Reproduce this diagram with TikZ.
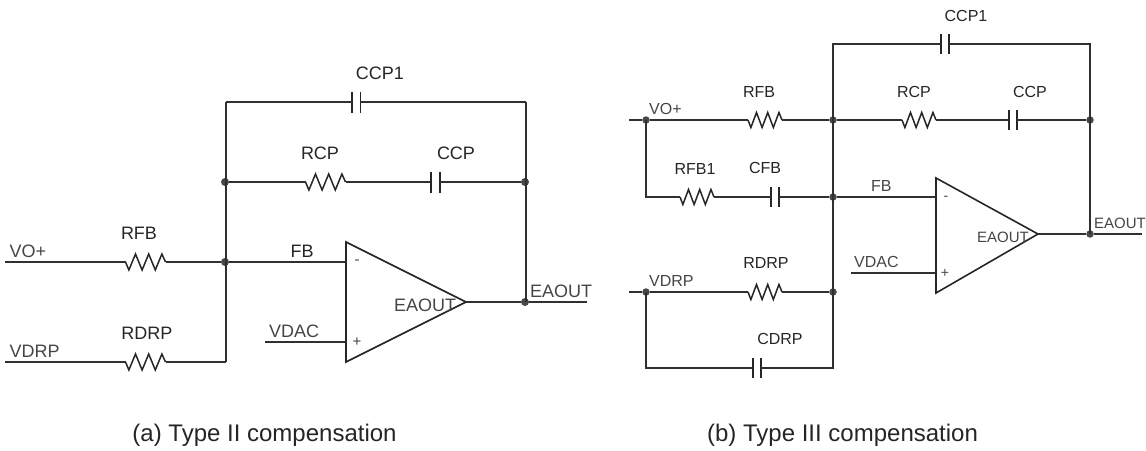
\documentclass[tikz,border=0pt]{standalone}
\usepackage{fontspec}
\setmainfont{Liberation Sans}
\definecolor{wirec}{HTML}{303030}
\definecolor{dotc}{HTML}{484848}
\definecolor{txa}{HTML}{252525}
\definecolor{txb}{HTML}{454545}
\newcommand{\resistor}[5]{% name, x left, y, width, amp
  \coordinate (#1l) at (#2,#3);
  \coordinate (#1r) at ({#2+#4},#3);
  \draw[part] (#1l)
    -- ++({0.085*#4},{#5}) -- ++({0.165*#4},{-2*#5}) -- ++({0.165*#4},{2*#5})
    -- ++({0.165*#4},{-2*#5}) -- ++({0.165*#4},{2*#5}) -- ++({0.165*#4},{-2*#5})
    -- (#1r);
}
\newcommand{\capacitor}[5]{% name, x plate1, x plate2, y, half height
  \coordinate (#1l) at (#2,#4);
  \coordinate (#1r) at (#3,#4);
  \draw[part] ([yshift=#5 pt]#1l) -- ([yshift=-#5 pt]#1l);
  \draw[part] ([yshift=#5 pt]#1r) -- ([yshift=-#5 pt]#1r);
}
\newcommand{\fsA}{\fontsize{18}{20}\selectfont}
\newcommand{\fsB}{\fontsize{16}{18}\selectfont}
\tikzset{
  wire/.style={draw=wirec,line width=1.5pt},
  heavy/.style={draw=wirec,line width=1.9pt},
  part/.style={draw=black!85,line width=1.5pt,line join=miter},
  amp/.style={draw=black!85,line width=1.6pt,line join=miter},
  jdot/.style={circle,fill=dotc,inner sep=0pt,minimum size=8pt},
  la/.style={inner sep=0pt,text=txa,font=\fsA},
  lag/.style={inner sep=0pt,text=txb,font=\fsA,anchor=west},
  lb/.style={inner sep=0pt,text=txa,font=\fsB},
  lbg/.style={inner sep=0pt,text=txb,font=\fsB,anchor=west},
  captext/.style={inner sep=0pt,text=txa,anchor=base,font=\fontsize{24}{28}\selectfont}
}
\begin{document}
\begin{tikzpicture}[x=1pt,y=-1pt]
\useasboundingbox (0,0) rectangle (1146,450);
% ---------- (a) ----------
\coordinate (aVO) at (5,262);
\coordinate (aVD) at (5,362);
\coordinate (aTL) at (226,102);
\coordinate (aTR) at (526,102);
\coordinate (aBL) at (226,362);
\coordinate (aOutEnd) at (587,302);
\coordinate (aDacS) at (265,342);
\coordinate (aMinus) at (346,262);
\coordinate (aPlus) at (346,342);
\coordinate (aApex) at (466,302);
\node[jdot] (aJ1) at (225,182) {};
\node[jdot] (aJ2) at (225,262) {};
\node[jdot] (aJ3) at (525,182) {};
\node[jdot] (aJ4) at (525,302) {};
\resistor{aRFB}{125.5}{262}{40}{8}
\resistor{aRDRP}{125.5}{362}{40}{8}
\resistor{aRCP}{305.5}{182}{40}{8}
\capacitor{aCCP}{431}{440}{182}{10.5}
\capacitor{aCCPa}{352}{360.5}{102}{10.5}
\draw[wire] (aVO) -- (aRFBl) (aRFBr) -- (aJ2);
\draw[wire] (aVD) -- (aRDRPl) (aRDRPr) -- (aBL);
\draw[heavy] (aBL) -- (aTL);
\draw[wire] (aTL) -- (aCCPal) (aCCPar) -- (aTR);
\draw[heavy] (aTR) -- (526,302);
\draw[wire] (aJ1) -- (aRCPl) (aRCPr) -- (aCCPl) (aCCPr) -- (aJ3);
\draw[wire] (aJ2) -- (aMinus);
\draw[wire] (aDacS) -- (aPlus);
\draw[wire] (aApex) -- (aJ4) -- (aOutEnd);
\draw[amp] (346,242) -- (aApex) -- (346,362) -- cycle;
\node[lag] (tA1) at (9.5,251) {VO+};
\node[la] (tA2) at (139,233) {RFB};
\node[lag] (tA3) at (9.5,351) {VDRP};
\node[la] (tA4) at (147,333) {RDRP};
\node[la] (tA5) at (380,73) {CCP1};
\node[la] (tA6) at (320,153) {RCP};
\node[la] (tA7) at (456,153) {CCP};
\node[la] (tA8) at (302,251) {FB};
\node[lag] (tA9) at (269,331) {VDAC};
\node[inner sep=0pt,text=txb,font=\fontsize{15}{17}\selectfont] (tA10) at (357,262) {-};
\node[inner sep=0pt,text=txb,font=\fontsize{15}{17}\selectfont] (tA11) at (357,342) {+};
\node[lag] (tA12) at (394,305) {EAOUT};
\node[lag] (tA13) at (530,291) {EAOUT};
\node[captext] (tA14) at (264.5,441.5) {(a) Type II compensation};
% ---------- (b) ----------
\coordinate (bVO) at (629,120);
\coordinate (bVD) at (629,292);
\coordinate (bTL) at (833,44);
\coordinate (bTR) at (1090,44);
\coordinate (bBR) at (833,368);
\coordinate (bBL) at (646,368);
\coordinate (bFBL) at (646,197);
\coordinate (bOutEnd) at (1142,234);
\coordinate (bDacS) at (851,273);
\coordinate (bMinus) at (936,197);
\coordinate (bPlus) at (936,273);
\coordinate (bApex) at (1038,234);
\node[jdot,minimum size=7.5pt] (bJ1) at (646,120) {};
\node[jdot,minimum size=7.5pt] (bJ2) at (833,120) {};
\node[jdot,minimum size=7.5pt] (bJ3) at (833,197) {};
\node[jdot,minimum size=7.5pt] (bJ4) at (646,292) {};
\node[jdot,minimum size=7.5pt] (bJ5) at (833,292) {};
\node[jdot,minimum size=7.5pt] (bJ6) at (1090,120) {};
\node[jdot,minimum size=7.5pt] (bJ7) at (1090,234) {};
\resistor{bRFB}{748}{120}{34}{7.5}
\resistor{bRFBa}{680}{197}{34}{7.5}
\resistor{bRDRP}{748}{292}{34}{7.5}
\resistor{bRCP}{902}{120}{34}{7.5}
\capacitor{bCFB}{771}{779}{197}{10}
\capacitor{bCDRP}{753}{761}{368}{10}
\capacitor{bCCP}{1009}{1017}{120}{10}
\capacitor{bCCPa}{941}{949}{44}{10}
\draw[wire] (bVO) -- (bJ1) -- (bRFBl) (bRFBr) -- (bJ2) -- (bRCPl) (bRCPr) -- (bCCPl) (bCCPr) -- (bJ6);
\draw[wire] (bJ1.center) -- (bFBL) -- (bRFBal) (bRFBar) -- (bCFBl) (bCFBr) -- (bJ3) -- (bMinus);
\draw[wire] (bVD) -- (bJ4) -- (bRDRPl) (bRDRPr) -- (bJ5);
\draw[wire] (bJ4.center) -- (bBL) -- (bCDRPl) (bCDRPr) -- (bBR) -- (bTL) -- (bCCPal) (bCCPar) -- (bTR) -- (bJ7.center);
\draw[wire] (bDacS) -- (bPlus);
\draw[wire] (bApex) -- (bJ7) -- (bOutEnd);
\draw[amp] (936,178) -- (bApex) -- (936,293) -- cycle;
\node[lbg] (tB1) at (649,109) {VO+};
\node[lb] (tB2) at (759,92) {RFB};
\node[lb] (tB3) at (695,169) {RFB1};
\node[lb] (tB4) at (765,168) {CFB};
\node[lbg] (tB5) at (871,186) {FB};
\node[lbg] (tB6) at (854,262) {VDAC};
\node[lbg] (tB7) at (649,281) {VDRP};
\node[lb] (tB8) at (766,263) {RDRP};
\node[lb] (tB9) at (780,339) {CDRP};
\node[lb] (tB10) at (966,16) {CCP1};
\node[lb] (tB11) at (914,92) {RCP};
\node[lb] (tB12) at (1030,92) {CCP};
\node[inner sep=0pt,text=txb,font=\fontsize{14}{16}\selectfont] (tB13) at (946,198) {-};
\node[inner sep=0pt,text=txb,font=\fontsize{14}{16}\selectfont] (tB14) at (945,273) {+};
\node[lbg,font=\fontsize{15}{17}\selectfont] (tB15) at (977,237) {EAOUT};
\node[lbg,font=\fontsize{15}{17}\selectfont] (tB16) at (1094,223) {EAOUT};
\node[captext] (tB17) at (842.5,441.5) {(b) Type III compensation};
\end{tikzpicture}
\end{document}
